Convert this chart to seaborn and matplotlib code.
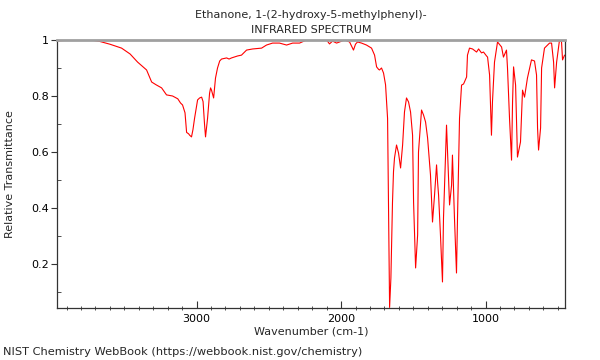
import numpy as np
import pandas as pd
import matplotlib
matplotlib.use("Agg")
import matplotlib.pyplot as plt
import seaborn as sns
from matplotlib.ticker import MultipleLocator

# -- Дані спектра
wavenumber = [
    3966, 3900, 3800, 3720, 3671, 3600, 3519, 3460, 3408, 3346, 3311, 3280,
    3242, 3208, 3166, 3130, 3111, 3097, 3080, 3069, 3055, 3048, 3035, 3025,
    3014, 2993, 2979, 2965, 2955, 2945, 2938, 2924, 2910, 2903, 2896, 2882,
    2869, 2855, 2840, 2827, 2792, 2775, 2758, 2716, 2689, 2654, 2612, 2550,
    2516, 2474, 2426, 2377, 2335, 2287, 2239, 2100, 2080, 2059, 2031, 2010,
    1976, 1941, 1914, 1900, 1886, 1858, 1824, 1789, 1768, 1754, 1740, 1734,
    1720, 1706, 1692, 1678, 1671, 1664, 1655, 1644, 1637, 1630, 1616, 1602,
    1588, 1574, 1561, 1547, 1533, 1519, 1505, 1498, 1484, 1470, 1464, 1443,
    1429, 1415, 1401, 1381, 1367, 1353, 1339, 1332, 1325, 1312, 1298, 1291,
    1270, 1263, 1249, 1235, 1229, 1215, 1201, 1194, 1180, 1166, 1152, 1131,
    1125, 1111, 1090, 1062, 1048, 1028, 1014, 993, 986, 972, 959, 952,
    938, 917, 889, 876, 855, 848, 834, 820, 813, 806, 792, 779,
    758, 744, 730, 710, 682, 661, 647, 640, 633, 619, 612, 592,
    557, 543, 529, 522, 508, 488, 474, 467, 453,
]
transmittance = [
    0.997, 0.999, 1.000, 0.999, 0.995, 0.985, 0.971, 0.950, 0.921, 0.893, 0.850, 0.840,
    0.829, 0.804, 0.800, 0.790, 0.775, 0.768, 0.740, 0.670, 0.665, 0.660, 0.654, 0.680,
    0.720, 0.786, 0.793, 0.796, 0.780, 0.700, 0.654, 0.720, 0.810, 0.829, 0.820, 0.793,
    0.864, 0.900, 0.925, 0.932, 0.936, 0.932, 0.936, 0.943, 0.946, 0.964, 0.968, 0.971,
    0.982, 0.989, 0.989, 0.982, 0.989, 0.989, 1.000, 1.000, 0.986, 0.996, 0.989, 0.993,
    1.000, 0.993, 0.964, 0.985, 0.993, 0.989, 0.982, 0.971, 0.946, 0.904, 0.895, 0.893,
    0.900, 0.882, 0.840, 0.720, 0.400, 0.045, 0.150, 0.420, 0.530, 0.579, 0.625, 0.596,
    0.543, 0.625, 0.743, 0.793, 0.779, 0.743, 0.660, 0.420, 0.186, 0.304, 0.600, 0.750,
    0.732, 0.707, 0.650, 0.518, 0.350, 0.446, 0.554, 0.493, 0.446, 0.304, 0.136, 0.364,
    0.696, 0.600, 0.411, 0.482, 0.589, 0.364, 0.168, 0.364, 0.720, 0.839, 0.843, 0.868,
    0.946, 0.971, 0.968, 0.957, 0.968, 0.954, 0.957, 0.943, 0.939, 0.875, 0.660, 0.779,
    0.921, 0.993, 0.975, 0.939, 0.964, 0.900, 0.720, 0.571, 0.779, 0.904, 0.839, 0.582,
    0.636, 0.821, 0.796, 0.864, 0.929, 0.925, 0.875, 0.686, 0.607, 0.686, 0.900, 0.971,
    0.989, 0.989, 0.921, 0.829, 0.921, 1.000, 0.993, 0.929, 0.946,
]

title_lines = ["Ethanone, 1-(2-hydroxy-5-methylphenyl)-", "INFRARED SPECTRUM"]
x_label = "Wavenumber (cm-1)"
y_label = "Relative Transmittance"
footer = "NIST Chemistry WebBook (https://webbook.nist.gov/chemistry)"

df = pd.DataFrame({"wn": wavenumber, "T": transmittance})

# -- Стиль
sns.set_style("ticks")
plt.rcParams["font.family"] = ["DejaVu Sans"]
plt.rcParams["font.size"] = 8

fig = plt.figure(figsize=(6, 3.6), dpi=100)
ax = fig.add_axes([57 / 600, 52 / 360, 508 / 600, 268 / 360])

sns.lineplot(data=df, x="wn", y="T", color="red", linewidth=0.8,
             estimator=None, sort=False, ax=ax)

ax.set_xlim(3966, 450)
ax.set_ylim(0.043, 1.0)

ax.xaxis.set_major_locator(MultipleLocator(1000))
ax.xaxis.set_minor_locator(MultipleLocator(100))
ax.yaxis.set_major_locator(MultipleLocator(0.2))
ax.yaxis.set_minor_locator(MultipleLocator(0.1))
ax.set_yticks([0.2, 0.4, 0.6, 0.8, 1.0])
ax.set_yticklabels(["0.2", "0.4", "0.6", "0.8", "1"])

ax.tick_params(axis="x", which="major", direction="in", length=5, width=0.8,
               colors="#333333", labelcolor="black", labelsize=8, pad=4)
ax.tick_params(axis="x", which="minor", direction="inout", length=3, width=0.6,
               colors="#333333")
ax.tick_params(axis="y", which="major", direction="out", length=4, width=0.8,
               colors="#333333", labelcolor="black", labelsize=8, pad=2)
ax.tick_params(axis="y", which="minor", direction="in", length=3, width=0.6,
               colors="#333333")

for side in ["left", "bottom", "right"]:
    ax.spines[side].set_visible(True)
    ax.spines[side].set_color("#333333")
    ax.spines[side].set_linewidth(0.9)
ax.spines["top"].set_visible(True)
ax.spines["top"].set_color("#a0a0a0")
ax.spines["top"].set_linewidth(2)

ax.set_title("\n".join(title_lines), fontsize=8, pad=5, linespacing=1.6)
ax.set_xlabel(x_label, fontsize=8)
ax.set_ylabel(y_label, fontsize=8)
ax.xaxis.set_label_coords(0.5, -0.07)
ax.yaxis.set_label_coords(-0.083, 0.5)

fig.text(3 / 600, 1 - 352 / 360, footer, fontsize=8.2, ha="left", va="center")

fig.savefig("out.png", dpi=100)
plt.close(fig)
